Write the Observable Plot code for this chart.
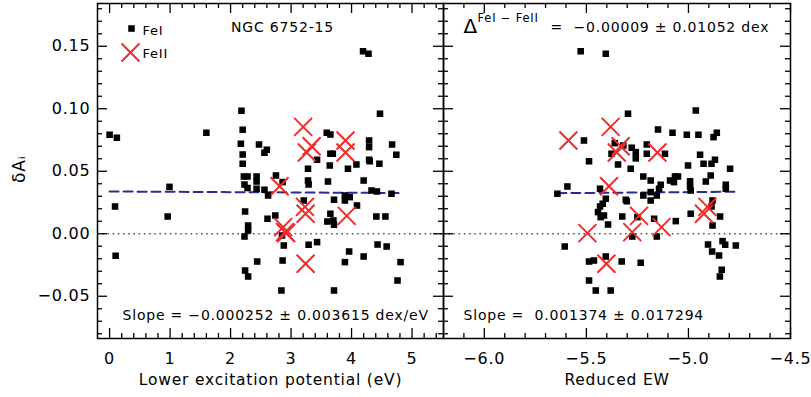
<!DOCTYPE html>
<html>
<head>
<meta charset="utf-8">
<script src="https://cdn.jsdelivr.net/npm/d3@7"></script>
<script src="https://cdn.jsdelivr.net/npm/@observablehq/plot@0.6"></script>
<style>
  html, body { margin: 0; padding: 0; background: white; }
  #chart { position: relative; width: 811px; height: 397px; background: white; overflow: hidden; }
  #chart svg { position: absolute; top: 0; }
</style>
</head>
<body>
<div id="chart"></div>
<script>
// ---------------- DATA ----------------
// Fe I lines, left panel: lower excitation potential (eV) vs delta A
const feI_ep = [0.00,0.12,1.60,0.99,0.09,0.96,0.10,2.18,2.20,2.17,2.20,2.20,2.22,2.28,2.23,2.28,2.43,2.43,2.43,2.47,2.60,2.56,2.56,2.62,2.75,2.86,2.24,2.74,2.61,2.29,2.29,2.23,2.85,2.88,2.86,2.44,2.24,2.29,2.84,3.59,3.65,3.65,3.69,3.43,3.28,3.64,3.61,3.28,3.29,3.21,3.29,3.43,3.71,3.65,3.60,3.70,3.71,3.89,3.97,3.89,4.09,3.89,3.96,3.71,4.08,3.94,4.19,4.28,4.47,4.29,4.29,4.29,4.30,4.46,4.67,4.74,4.20,4.33,4.42,4.66,4.20,4.41,4.56,4.43,4.58,4.81,4.76];
const feI_dA_ep = [0.0792,0.0768,0.0808,0.0375,0.0218,0.0138,-0.0176,0.0984,0.0832,0.072,0.0634,0.056,0.0458,0.0458,0.0394,0.0366,0.0458,0.0418,0.036,0.0714,0.0672,0.0648,0.0352,0.0306,0.0466,0.0413,0.0178,0.0146,0.012,0.0066,0.0026,-0.0022,-0.0014,-0.0094,-0.0214,-0.0222,-0.0294,-0.0342,-0.0454,0.0808,0.0794,0.064,0.064,0.0592,0.052,0.0546,0.0418,0.0426,0.0394,0.0266,-0.0088,-0.0067,0.0272,0.016,0.0098,0.0106,0.0072,0.0306,0.0293,0.0266,0.0226,-0.0227,-0.0142,-0.0454,0.0554,0.052,0.146,0.144,0.096,0.0746,0.0693,0.0592,0.058,0.056,0.0714,0.0632,0.0426,0.0346,0.0338,0.032,-0.0182,0.0138,0.0138,-0.0086,-0.0102,-0.0227,-0.0374];

// Fe I lines, right panel: reduced EW vs delta A
const feI_rew = [-5.528,-5.405,-5.296,-4.964,-5.512,-5.149,-5.078,-5.008,-4.951,-4.861,-4.877,-5.487,-5.278,-5.258,-5.258,-5.345,-5.283,-5.361,-5.319,-5.377,-5.204,-5.204,-5.115,-4.943,-5.002,-4.926,-4.887,-4.870,-4.796,-5.221,-5.185,-5.090,-5.066,-5.051,-5.071,-4.992,-4.992,-4.915,-4.891,-5.136,-5.144,-4.817,-4.817,-4.989,-5.593,-5.642,-5.433,-5.221,-5.185,-5.155,-5.185,-5.405,-5.307,-5.420,-5.433,-5.443,-5.430,-5.414,-5.324,-5.394,-5.302,-5.250,-5.275,-5.606,-5.405,-5.487,-5.463,-5.327,-5.234,-5.487,-5.454,-5.381,-5.168,-5.062,-4.989,-4.845,-4.882,-5.155,-4.904,-4.833,-4.820,-4.768,-4.884,-4.850,-4.837,-4.846,-4.882,-4.887];
const feI_dA_rew = [0.146,0.144,0.096,0.0986,0.0746,0.0834,0.0808,0.0792,0.0792,0.0808,0.0773,0.058,0.0688,0.0653,0.0603,0.0554,0.052,0.0725,0.0706,0.064,0.0714,0.064,0.064,0.0632,0.0546,0.056,0.056,0.0592,0.052,0.0458,0.0426,0.0426,0.0458,0.0458,0.0413,0.042,0.0378,0.0418,0.0466,0.0392,0.036,0.0392,0.036,0.0346,0.0378,0.032,0.036,0.0306,0.0333,0.0306,0.0266,0.028,0.0272,0.024,0.0218,0.0173,0.0133,0.0146,0.0138,0.0074,0.026,0.0133,-0.0022,-0.0102,-0.0182,-0.0222,-0.0214,-0.0222,-0.0232,-0.0374,-0.0454,-0.0454,0.012,0.0101,0.016,0.0138,0.0066,-0.0022,-0.0086,-0.0059,-0.0088,-0.0094,-0.0142,-0.0174,-0.0288,-0.0342,0.0266,0.0218];

// Fe II lines (same lines in both panels)
const feII_dA  = [0.0855,0.0746,0.070,0.065,0.065,0.038,0.0215,0.016,0.0143,0.0053,0.0013,0.0005,-0.024];
const feII_ep  = [3.20,3.90,3.34,3.26,3.90,2.81,3.23,3.24,3.92,2.87,2.90,2.92,3.24];
const feII_rew = [-5.381,-5.588,-5.332,-5.351,-5.152,-5.389,-4.907,-4.924,-5.242,-5.132,-5.275,-5.495,-5.402];

// linear fits [intercept, slope]
const fitEP  = [0.0338, -0.000252];
const fitREW = [0.0402, 0.001374];

// axes
const yDomain = [-0.0838, 0.1842];
const yMajor = [-0.05, 0.00, 0.05, 0.10, 0.15];
const epDomain = [-0.2, 5.52];
const epMajor = [0, 1, 2, 3, 4, 5];
const rewDomain = [-6.2, -4.5];
const rewMajor = [-6.0, -5.5, -5.0, -4.5];

// texts
const title = "NGC 6752-15";
const legendLabels = ["FeI", "FeII"];
const slopeEP = "Slope = \u22120.000252 \u00b1 0.003615 dex/eV";
const slopeREW = "Slope =  0.001374 \u00b1 0.017294";
const deltaSup = "FeI \u2212 FeII";
const deltaVal = "=  \u22120.00009 \u00b1 0.01052 dex";
const xLabelEP = "Lower excitation potential (eV)";
const xLabelREW = "Reduced EW";
const yLabel = "\u03b4A\u1d62";

// ---------------- DRAW ----------------
const H = 397, MT = 3, MB = 59;
const RED = "#f22a2a", NAVY = "#2b2b95";
const isMajor = (arr) => (v) => arr.some(m => Math.abs(m - v) < 1e-9);
const yMinor = d3.range(-8, 19).map(i => i / 100).filter(v => !isMajor(yMajor)(v));
const epMinor = d3.range(1, 28).map(i => i / 5).filter(v => !isMajor(epMajor)(v));
const rewMinor = d3.range(-61, -45).map(i => i / 10).filter(v => !isMajor(rewMajor)(v));

function pts(xs, ys) { return xs.map((x, i) => ({x, y: ys[i]})); }

function fitLine(fit, xsAll) {
  const [a, b] = d3.extent(xsAll);
  return [a, b].map(x => ({x, y: fit[0] + fit[1] * x}));
}

function tickMarks(xMaj, xMin, innerW, innerH) {
  const s = {stroke: "black", strokeWidth: 1.3};
  return [
    Plot.tickX(xMaj, {x: d => d, insetTop: innerH - 10, ...s}),
    Plot.tickX(xMaj, {x: d => d, insetBottom: innerH - 10, ...s}),
    Plot.tickX(xMin, {x: d => d, insetTop: innerH - 5, ...s}),
    Plot.tickX(xMin, {x: d => d, insetBottom: innerH - 5, ...s}),
    Plot.tickY(yMajor, {y: d => d, insetRight: innerW - 10, ...s}),
    Plot.tickY(yMajor, {y: d => d, insetLeft: innerW - 10, ...s}),
    Plot.tickY(yMinor, {y: d => d, insetRight: innerW - 5, ...s}),
    Plot.tickY(yMinor, {y: d => d, insetLeft: innerW - 5, ...s})
  ];
}

function txt(str, o) {
  return Plot.text([str], {x: null, y: null, text: d => d, fill: "black", lineAnchor: "middle", ...o});
}

function panel(o) {
  const innerW = o.width - o.marginLeft - o.marginRight;
  const innerH = H - MT - MB;
  const marks = [
    Plot.ruleY([0], {stroke: "#555", strokeWidth: 1.6, strokeDasharray: "1.6,3.6"}),
    Plot.line(o.fit, {x: "x", y: "y", stroke: NAVY, strokeWidth: 2, strokeDasharray: "9,5"}),
    Plot.dot(o.feI, {x: "x", y: "y", symbol: "square", r: 3.7, fill: "black"}),
    Plot.dot(o.feII, {x: "x", y: "y", symbol: "times", r: 8.2, stroke: RED, strokeWidth: 2}),
    Plot.frame({stroke: "black", strokeWidth: 1.5}),
    ...tickMarks(o.xMajor, o.xMinor, innerW, innerH),
    Plot.axisX(o.xMajor, {tickSize: 0, tickPadding: 14, tickFormat: o.xFormat, label: null, fontSize: 16}),
    txt(o.xLabel, {frameAnchor: "bottom", dy: 42, fontSize: 15.5}),
    ...o.extra
  ];
  return Plot.plot({
    width: o.width, height: H,
    marginLeft: o.marginLeft, marginRight: o.marginRight, marginTop: MT, marginBottom: MB,
    x: {domain: o.xDomain},
    y: {domain: yDomain, axis: null},
    style: {fontFamily: "DejaVu Sans", fontSize: "16px", letterSpacing: "0.8px", background: "transparent", overflow: "visible"},
    marks
  });
}

const left = panel({
  width: 443, marginLeft: 97, marginRight: 0,
  xDomain: epDomain, xMajor: epMajor, xMinor: epMinor, xFormat: d3.format("d"),
  xLabel: xLabelEP,
  feI: pts(feI_ep, feI_dA_ep), feII: pts(feII_ep, feII_dA),
  fit: fitLine(fitEP, feI_ep.concat(feII_ep)),
  extra: [
    Plot.axisY(yMajor, {tickSize: 0, tickPadding: 7, tickFormat: d3.format(".2f"), label: null, fontSize: 16}),
    txt(yLabel, {frameAnchor: "left", dx: -78, dy: 12, rotate: -90, fontSize: 17}),
    txt(title, {frameAnchor: "top-left", dx: 185, dy: 24, textAnchor: "middle", fontSize: 14}),
    Plot.dot([0], {x: null, y: null, frameAnchor: "top-left", dx: 34, dy: 25, symbol: "square", r: 3.7, fill: "black"}),
    Plot.dot([0], {x: null, y: null, frameAnchor: "top-left", dx: 33, dy: 49, symbol: "times", r: 8.2, stroke: RED, strokeWidth: 2}),
    txt(legendLabels[0], {frameAnchor: "top-left", dx: 45, dy: 27, textAnchor: "start", fontSize: 13}),
    txt(legendLabels[1], {frameAnchor: "top-left", dx: 45, dy: 50, textAnchor: "start", fontSize: 13}),
    txt(slopeEP, {frameAnchor: "bottom-left", dx: 25, dy: -23, textAnchor: "start", fontSize: 14})
  ]
});

const right = panel({
  width: 378, marginLeft: 10, marginRight: 21,
  xDomain: rewDomain, xMajor: rewMajor, xMinor: rewMinor, xFormat: d3.format(".1f"),
  xLabel: xLabelREW,
  feI: pts(feI_rew, feI_dA_rew), feII: pts(feII_rew, feII_dA),
  fit: fitLine(fitREW, feI_rew.concat(feII_rew)),
  extra: [
    txt("\u0394", {frameAnchor: "top-left", dx: 20, dy: 23, textAnchor: "start", fontSize: 20}),
    txt(deltaSup, {frameAnchor: "top-left", dx: 34, dy: 14.5, textAnchor: "start", fontSize: 11.5}),
    txt(deltaVal, {frameAnchor: "top-left", dx: 107, dy: 23.7, textAnchor: "start", fontSize: 14}),
    txt(slopeREW, {frameAnchor: "bottom-left", dx: 20, dy: -23, textAnchor: "start", fontSize: 14})
  ]
});

left.style.left = "0px";
right.style.left = "433px";
document.getElementById("chart").append(left, right);
</script>
</body>
</html>
